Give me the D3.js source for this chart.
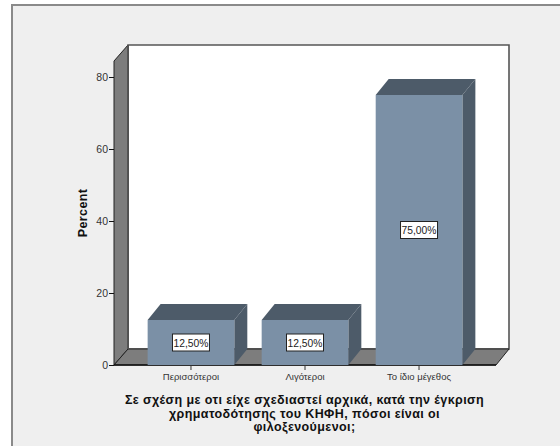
<!DOCTYPE html>
<html><head><meta charset="utf-8">
<script src="https://cdn.jsdelivr.net/npm/d3@7/dist/d3.min.js"></script>
<style>html,body{margin:0;padding:0;background:#fff}svg{display:block}text{font-family:"Liberation Sans",Arial,sans-serif}</style>
</head><body><svg id="c" width="560" height="446"></svg>
<script>
const categories = ["Περισσότεροι","Λιγότεροι","Το ίδιο μέγεθος"];
const values = [12.5,12.5,75];
const valueLabels = ["12,50%","12,50%","75,00%"];
const yTicks = [0,20,40,60,80];
const yTitle = "Percent";
const xTitle = ["Σε σχέση με οτι είχε σχεδιαστεί αρχικά, κατά την έγκριση","χρηματοδότησης του ΚΗΦΗ, πόσοι είναι οι","φιλοξενούμενοι;"];

const svg = d3.select("#c");
svg.append("rect").attr("x",12).attr("y",5).attr("width",560).attr("height",460).attr("fill","#efefef").attr("stroke","#8a8a8a").attr("stroke-width",2);

const dx=14, dy=16;
const y = d3.scaleLinear().domain([0,80]).range([365,77]);
const x = d3.scaleBand().domain(categories).range([114,496]).paddingInner(0.24).paddingOuter(0.295);
const top3d = y(84.44);
const L=114,R=496,B=365;
const poly=(pts,fill,stroke,sw)=>svg.append("polygon").attr("points",pts.map(p=>p.join(",")).join(" ")).attr("fill",fill).attr("stroke",stroke||"none").attr("stroke-width",sw||0);

poly([[L+dx,top3d-dy],[R+dx-1,top3d-dy],[R+dx-1,B-dy],[L+dx,B-dy]],"#fff","#555",1.6);
poly([[L,top3d],[L+dx,top3d-dy],[L+dx,B-dy],[L,B]],"#7d7d7d","#222",1);
poly([[L,B],[L+dx,B-dy],[R+dx-1,B-dy],[R,B]],"#7d7d7d","#222",1);
svg.append("line").attr("x1",L+dx).attr("x2",L+dx).attr("y1",top3d-dy).attr("y2",B-dy).attr("stroke","#555").attr("stroke-width",1.6);
svg.append("line").attr("x1",L).attr("x2",R).attr("y1",B).attr("y2",B).attr("stroke","#111").attr("stroke-width",1.4);

categories.forEach((c,i)=>{
  const x0=x(c), x1=x0+x.bandwidth(), yt=y(values[i]);
  poly([[x0,yt],[x0+dx-1,yt-dy],[x1+dx-1,yt-dy],[x1,yt]],"#4d5b69");
  poly([[x1,yt],[x1+dx-1,yt-dy],[x1+dx-1,B-dy],[x1,B]],"#4d5b69");
  svg.append("rect").attr("x",x0).attr("y",yt).attr("width",x.bandwidth()).attr("height",B-yt).attr("fill","#7b90a6");
  const cx=(x0+x1)/2, cy=(yt+B)/2;
  svg.append("rect").attr("x",cx-18.5).attr("y",cy-8.5).attr("width",37).attr("height",17).attr("fill","#fff").attr("stroke","#222").attr("stroke-width",1);
  svg.append("text").attr("x",cx).attr("y",cy+4).attr("text-anchor","middle").attr("font-size",10.3).attr("fill","#222").text(valueLabels[i]);
});

const yAxis = svg.append("g").attr("transform",`translate(${L},0)`).call(d3.axisLeft(y).tickValues(yTicks).tickSize(5).tickPadding(1).tickFormat(d3.format("d")));
yAxis.select(".domain").remove();
yAxis.selectAll("line").attr("stroke","#111");
yAxis.selectAll("text").attr("font-size",10.5).attr("fill","#333");
const xAxis = svg.append("g").attr("transform",`translate(0,${B})`).call(d3.axisBottom(x).tickSize(5).tickPadding(3));
xAxis.select(".domain").remove();
xAxis.selectAll("line").attr("stroke","#333");
xAxis.selectAll("text").attr("font-size",9.5).attr("fill","#333");

svg.append("text").attr("transform","translate(87,213) rotate(-90)").attr("text-anchor","middle").attr("font-size",12.5).attr("letter-spacing",0.4).attr("font-weight","bold").attr("fill","#111").text(yTitle);
svg.selectAll(".xt").data(xTitle).join("text").attr("class","xt").attr("x",304.5).attr("y",(d,i)=>404+i*13.5).attr("text-anchor","middle").attr("font-size",12.5).attr("letter-spacing",0.4).attr("font-weight","bold").attr("fill","#111").text(d=>d);
</script></body></html>
